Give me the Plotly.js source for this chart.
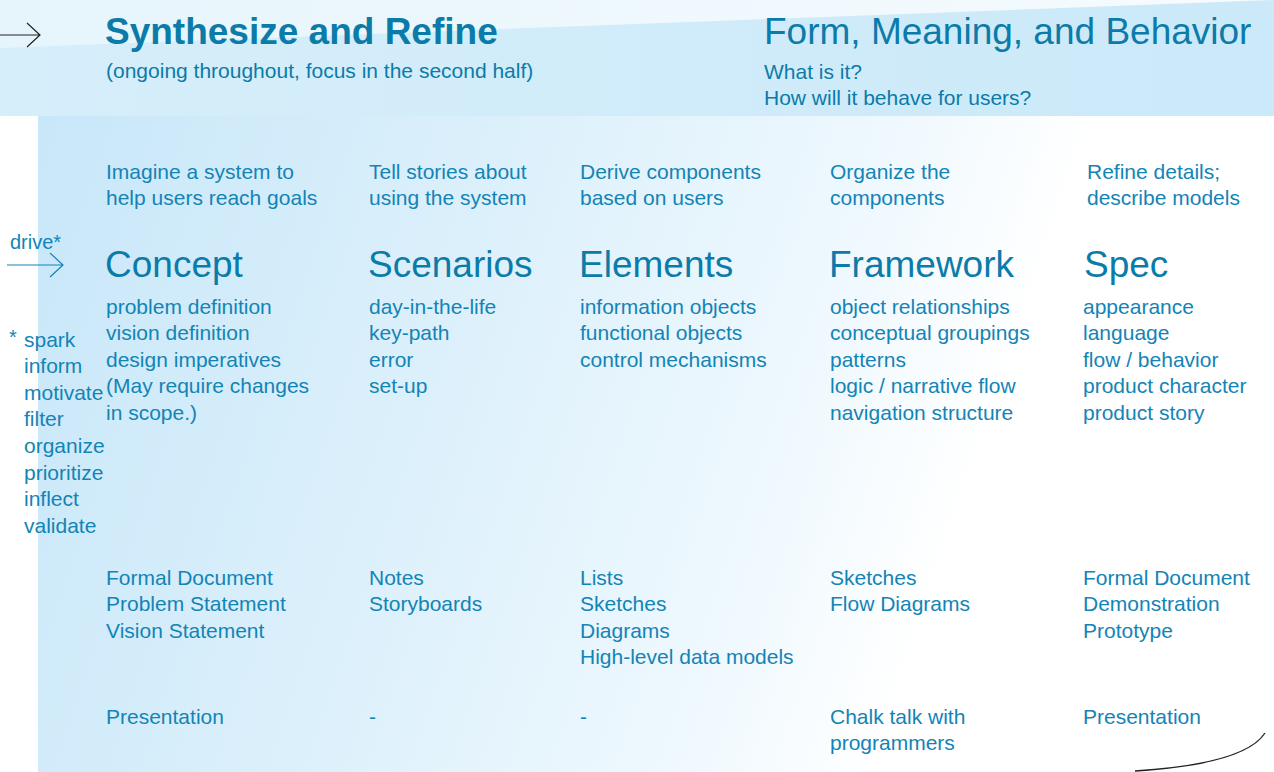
<!DOCTYPE html>
<html><head><meta charset="utf-8">
<script src="https://cdn.plot.ly/plotly-3.0.1.min.js"></script>
<style>html,body{margin:0;padding:0;background:#fff;overflow:hidden}#chart{width:1274px;height:772px}</style>
</head><body><div id="chart"></div>
<script>
// ---------- content ----------
const mainTitle = "Synthesize and Refine";
const mainSubtitle = "(ongoing throughout, focus in the second half)";
const sideTitle = "Form, Meaning, and Behavior";
const sideQuestions = ["What is it?", "How will it behave for users?"];
const driveLabel = "drive*";
const driverMark = "*";
const drivers = ["spark", "inform", "motivate", "filter", "organize", "prioritize", "inflect", "validate"];
const columns = ["Concept", "Scenarios", "Elements", "Framework", "Spec"];
const intros = [
  ["Imagine a system to", "help users reach goals"],
  ["Tell stories about", "using the system"],
  ["Derive components", "based on users"],
  ["Organize the", "components"],
  ["Refine details;", "describe models"]
];
const activities = [
  ["problem definition", "vision definition", "design imperatives", "(May require changes", "in scope.)"],
  ["day-in-the-life", "key-path", "error", "set-up"],
  ["information objects", "functional objects", "control mechanisms"],
  ["object relationships", "conceptual groupings", "patterns", "logic / narrative flow", "navigation structure"],
  ["appearance", "language", "flow / behavior", "product character", "product story"]
];
const deliverables = [
  ["Formal Document", "Problem Statement", "Vision Statement"],
  ["Notes", "Storyboards"],
  ["Lists", "Sketches", "Diagrams", "High-level data models"],
  ["Sketches", "Flow Diagrams"],
  ["Formal Document", "Demonstration", "Prototype"]
];
const presentations = [
  ["Presentation"],
  ["-"],
  ["-"],
  ["Chalk talk with", "programmers"],
  ["Presentation"]
];

// ---------- layout constants (pixels) ----------
const W = 1274, H = 772;
const FONT = "Liberation Sans, Arial, Helvetica, sans-serif";
const C_HEAD = "#0b7ba9";
const C_BODY = "#1384b6";
const colX = [105, 368, 579, 829, 1082];
const introX = [105, 368, 579, 829, 1086];
const headX = [104, 367, 578, 828, 1083];
const LINE = 26.6;
const Y_INTRO = 171, Y_HEAD = 264, Y_ACT = 306, Y_DEL = 577, Y_PRES = 716;
const BODY = 21, BIG = 37;

const ann = [];
function t(x, y, text, size, color) {
  ann.push({x: x, y: y, xref: 'x', yref: 'y', text: text, showarrow: false,
    xanchor: 'left', yanchor: 'middle', borderpad: 0,
    font: {family: FONT, size: size, color: color}});
}
function block(x, y0, lines, size, color) {
  lines.forEach((s, i) => t(x, y0 + i * LINE, s, size, color));
}

// header band
t(104, 31, "<b>" + mainTitle + "</b>", BIG, C_HEAD);
t(105, 70, mainSubtitle, BODY, C_HEAD);
t(763, 31, sideTitle, BIG, C_HEAD);
block(763, 71, sideQuestions, BODY, C_HEAD);

// left drivers
t(9, 242, driveLabel, BODY - 1, C_BODY);
t(8, 337, driverMark, BODY - 1, C_BODY);
block(23, 339, drivers, BODY, C_BODY);

// columns
columns.forEach((c, i) => {
  block(introX[i], Y_INTRO, intros[i], BODY, C_BODY);
  t(headX[i], Y_HEAD, c, BIG, C_HEAD);
  block(colX[i], Y_ACT, activities[i], BODY, C_BODY);
  block(colX[i], Y_DEL, deliverables[i], BODY, C_BODY);
  block(colX[i], Y_PRES, presentations[i], BODY, C_BODY);
});

// background
const bgSvg = "<svg xmlns='http://www.w3.org/2000/svg' width='1274' height='772' viewBox='0 0 1274 772' preserveAspectRatio='none'>" +
  "<defs>" +
  "<linearGradient id='p' gradientUnits='userSpaceOnUse' x1='38' y1='116' x2='991' y2='440'>" +
  "<stop offset='0' stop-color='#c8e7f9'/><stop offset='0.45' stop-color='#dcf0fb'/>" +
  "<stop offset='0.8' stop-color='#eef8fe'/><stop offset='1' stop-color='#ffffff'/></linearGradient>" +
  "<linearGradient id='b' x1='0' y1='0' x2='1' y2='0'>" +
  "<stop offset='0' stop-color='#d6eefa'/><stop offset='1' stop-color='#cbe9f9'/></linearGradient>" +
  "<linearGradient id='w' x1='0' y1='0' x2='1' y2='0'>" +
  "<stop offset='0' stop-color='#e6f5fc'/><stop offset='1' stop-color='#f6fbfe'/></linearGradient>" +
  "</defs>" +
  "<rect x='38' y='116' width='1236' height='656' fill='url(#p)'/>" +
  "<rect x='0' y='0' width='1274' height='116' fill='url(#b)'/>" +
  "<polygon points='0,0 1274,0 0,48' fill='url(#w)'/>" +
  "</svg>";

const shapes = [
  {type: 'path', xref: 'x', yref: 'y', path: 'M0,35 L40,35 M27,23 L40,35 L27,47',
   line: {color: '#222222', width: 1.2}},
  {type: 'path', xref: 'x', yref: 'y', path: 'M7,265 L63,265 M50,253 L63,265 L50,277',
   line: {color: C_BODY, width: 1.2}},
  {type: 'path', xref: 'x', yref: 'y', path: 'M1265,733 Q1245,764 1135,771',
   line: {color: '#222222', width: 1.3}}
];

const layout = {
  width: W, height: H,
  margin: {l: 0, r: 0, t: 0, b: 0, pad: 0},
  paper_bgcolor: '#ffffff', plot_bgcolor: 'rgba(0,0,0,0)',
  showlegend: false,
  xaxis: {range: [0, W], visible: false, fixedrange: true},
  yaxis: {range: [H, 0], visible: false, fixedrange: true},
  images: [{source: 'data:image/svg+xml;charset=utf-8,' + encodeURIComponent(bgSvg),
    xref: 'paper', yref: 'paper', x: 0, y: 1, sizex: 1, sizey: 1,
    xanchor: 'left', yanchor: 'top', sizing: 'stretch', layer: 'below'}],
  shapes: shapes,
  annotations: ann
};

Plotly.newPlot('chart', [{x: [], y: [], type: 'scatter', mode: 'markers', hoverinfo: 'skip'}], layout,
  {displayModeBar: false, staticPlot: true});
</script>
</body></html>
